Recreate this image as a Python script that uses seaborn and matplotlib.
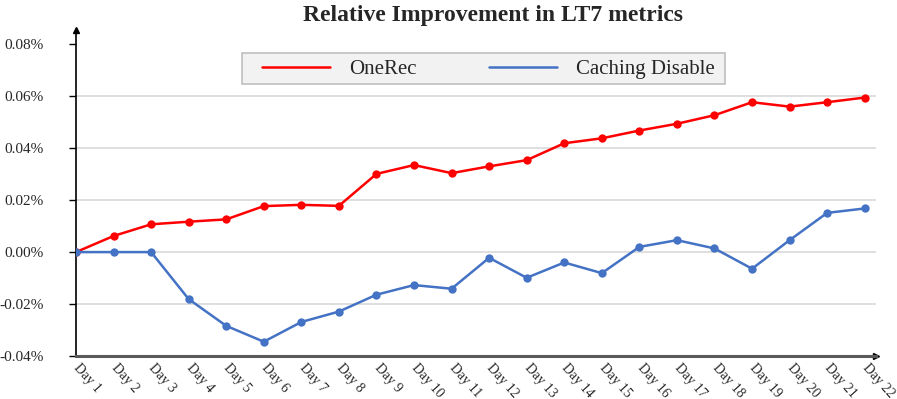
import matplotlib
matplotlib.use("Agg")
import matplotlib.pyplot as plt
from matplotlib.patches import Rectangle
import seaborn as sns
import pandas as pd

days = [f"Day {i}" for i in range(1, 23)]
onerec = [0.0, 0.0062, 0.0107, 0.0117, 0.0126, 0.0177, 0.0182, 0.0178, 0.0301, 0.0335, 0.0304,
          0.0330, 0.0354, 0.0419, 0.0438, 0.0468, 0.0494, 0.0527, 0.0577, 0.0560, 0.0577, 0.0595]
caching = [0.0, 0.0, 0.0, -0.0181, -0.0284, -0.0345, -0.0269, -0.0229, -0.0164, -0.0127, -0.0141,
           -0.0022, -0.0099, -0.0040, -0.0081, 0.0020, 0.0046, 0.0014, -0.0064, 0.0046, 0.0151, 0.0168]
series_names = ["OneRec", "Caching Disable"]
yticks = [-0.04, -0.02, 0.0, 0.02, 0.04, 0.06, 0.08]
gridvals = [-0.02, 0.0, 0.02, 0.04, 0.06]

df = pd.DataFrame({
    "idx": list(range(len(days))) * 2,
    "value": onerec + caching,
    "series": [series_names[0]] * len(days) + [series_names[1]] * len(days),
})

sns.set_theme(style="white")
plt.rcParams["font.family"] = ["Liberation Serif", "DejaVu Serif"]

W, H = 897, 399
AX0, AXW, AXTOP, AXBOT = 76, 800, 30, 356
fig = plt.figure(figsize=(W / 100, H / 100), dpi=100)
ax = fig.add_axes([AX0 / W, (H - AXBOT) / H, AXW / W, (AXBOT - AXTOP) / H])

def axx(px):
    return (px - AX0) / AXW

def axy(py):
    return (AXBOT - py) / (AXBOT - AXTOP)

for g in gridvals:
    ax.axhline(g, color="#d9d9d9", lw=1.2, zorder=0)

sns.lineplot(data=df, x="idx", y="value", hue="series", palette={"OneRec": "#ff0000", "Caching Disable": "#4472c4"},
             marker="o", markersize=6, markeredgewidth=0, linewidth=1.8, ax=ax, legend=True, zorder=3)

ax.set_xlim(0, 21.3)
ax.set_ylim(-0.04, 0.0855)
ax.set_yticks(yticks)
ax.set_yticklabels([f"{v:.2f}%" for v in yticks], fontsize=11)
ax.set_xticks(range(len(days)))
ax.set_xticklabels(days, fontsize=10, rotation=-48, ha="left", va="center", rotation_mode="anchor")
ax.tick_params(axis="y", length=5, width=1, color="black", direction="out", pad=18.5, left=True)
ax.tick_params(axis="x", length=0, pad=7)
ax.set_xlabel("")
ax.set_ylabel("")

for s in ["top", "right"]:
    ax.spines[s].set_visible(False)
ax.spines["left"].set_color("black")
ax.spines["left"].set_linewidth(1.2)
ax.spines["bottom"].set_color("#595959")
ax.spines["bottom"].set_linewidth(2.2)
ax.plot(0, 1, marker="^", color="black", markersize=4, transform=ax.get_xaxis_transform(), clip_on=False)
ax.plot(1, -0.04, marker=">", color="black", markersize=4, transform=ax.get_yaxis_transform(), clip_on=False)

# legend box
ax.add_patch(Rectangle((axx(242), axy(84)), axx(725) - axx(242), axy(53) - axy(84), transform=ax.transAxes,
                       facecolor="#f2f2f2", edgecolor="#bfbfbf", linewidth=1.2, zorder=4, clip_on=False))
leg = ax.legend(ncol=2, loc="center left", bbox_to_anchor=(axx(262), axy(69)),
                fontsize=15, frameon=False, handlelength=3.27, columnspacing=3.5,
                borderpad=0, handletextpad=0.9, borderaxespad=0)
leg.set_zorder(5)
for h in leg.get_lines():
    h.set_marker("")
    h.set_linewidth(1.8)

fig.text(493 / W, 1 - 15 / H, "Relative Improvement in LT7 metrics", ha="center", va="center",
         fontsize=17, fontweight="bold")

fig.savefig("out.png", dpi=100)
